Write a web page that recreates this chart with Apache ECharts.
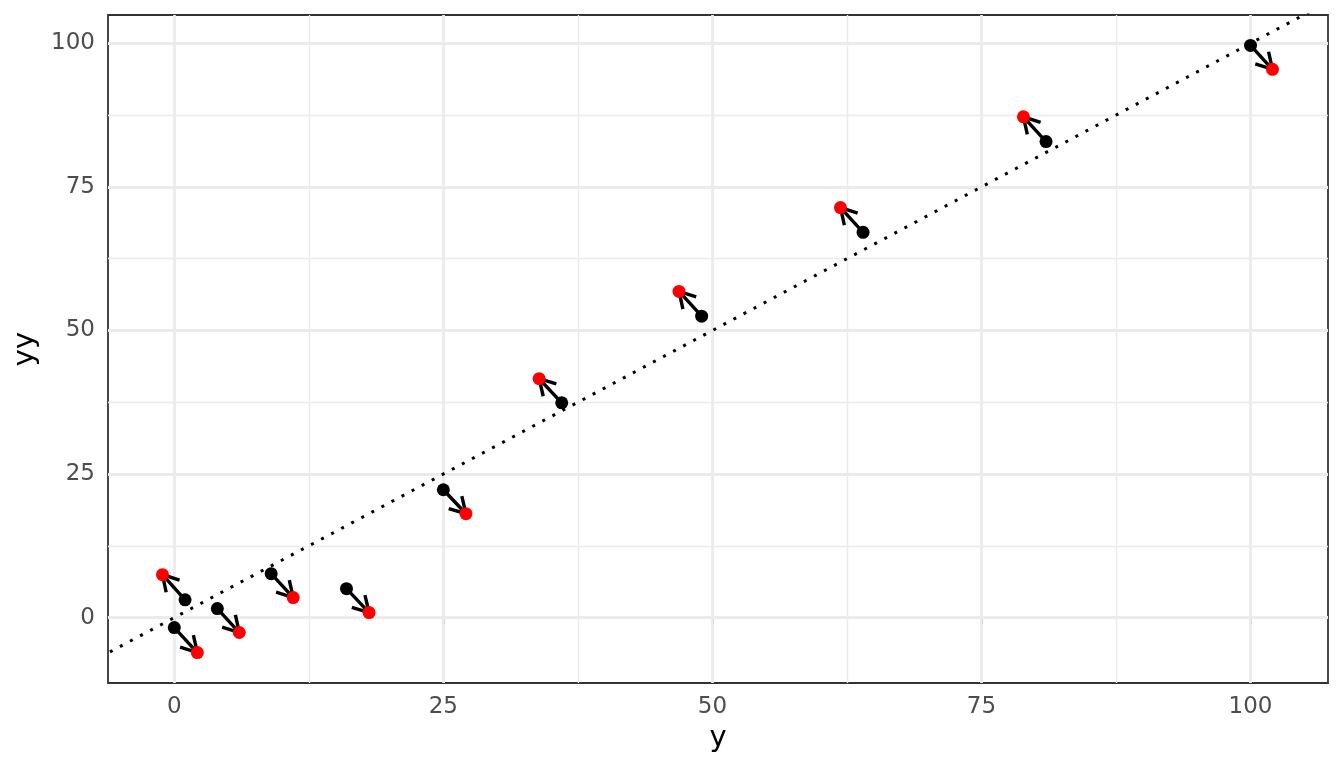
<!DOCTYPE html>
<html><head><meta charset="utf-8">
<script src="https://cdn.jsdelivr.net/npm/echarts@6/dist/echarts.min.js"></script>
<style>html,body{margin:0;padding:0;background:#fff}#c{width:1344px;height:768px}</style>
</head><body><div id="c"></div>
<script>
// data
const blackX = [0, 1, 4, 9, 16, 25, 36, 49, 64, 81, 100];
const blackY = [-1.74, 3.1, 1.57, 7.65, 5.04, 22.26, 37.4, 52.5, 67.1, 82.9, 99.65];
const redX = [2.14, -1.1, 6.04, 11.05, 18.1, 27.1, 33.9, 46.9, 61.9, 78.9, 102.04];
const redY = [-6.09, 7.48, -2.6, 3.48, 0.87, 18.09, 41.6, 56.8, 71.4, 87.2, 95.48];
const tickValues = [0, 25, 50, 75, 100];
const minorValues = [12.5, 37.5, 62.5, 87.5];
const xRange = [-6.16, 107.2];
const yRange = [-11.39, 104.94];
const refLine = [[-20, -20], [130, 130]];

const font = 'DejaVu Sans';
const gridLines = [];
tickValues.forEach(v => { gridLines.push({xAxis: v, lineStyle: {width: 2.8}}); gridLines.push({yAxis: v, lineStyle: {width: 2.8}}); });
minorValues.forEach(v => { gridLines.push({xAxis: v, lineStyle: {width: 1.4}}); gridLines.push({yAxis: v, lineStyle: {width: 1.4}}); });

const chart = echarts.init(document.getElementById('c'));
const axisCommon = {
  type: 'value',
  axisLine: {show: false},
  splitLine: {show: false},
  axisTick: {show: true, length: 7, customValues: tickValues, lineStyle: {color: '#333333', width: 2}},
  axisLabel: {customValues: tickValues, color: '#4D4D4D', fontFamily: font, fontSize: 23, margin: 13},
  nameLocation: 'middle',
  nameTextStyle: {color: '#000', fontFamily: font, fontSize: 29}
};
chart.setOption({
  animation: false,
  backgroundColor: '#fff',
  grid: {left: 108, right: 16, top: 15, bottom: 85, show: true, borderColor: '#333333', borderWidth: 1.8, backgroundColor: '#fff'},
  xAxis: Object.assign({}, axisCommon, {min: xRange[0], max: xRange[1], name: 'y', nameGap: 37}),
  yAxis: Object.assign({}, axisCommon, {min: yRange[0], max: yRange[1], name: 'yy', nameGap: 60, nameRotate: 90}),
  series: [
    {type: 'line', data: [], z: 1, silent: true,
     markLine: {z: 1, silent: true, symbol: ['none', 'none'], label: {show: false},
       lineStyle: {color: '#EBEBEB', type: 'solid'}, emphasis: {disabled: true}, data: gridLines}},
    {type: 'line', data: refLine, z: 6, clip: true, showSymbol: false, silent: true,
     lineStyle: {color: '#000', width: 3, type: [3, 8.4], cap: 'butt'}},
    {type: 'custom', z: 7, silent: true,
     data: blackX.map((x, i) => [x, blackY[i], redX[i], redY[i]]),
     encode: {x: [0, 2], y: [1, 3]},
     renderItem: function (params, api) {
       const p0 = api.coord([api.value(0), api.value(1)]);
       const p1 = api.coord([api.value(2), api.value(3)]);
       const a = Math.atan2(p1[1] - p0[1], p1[0] - p0[0]);
       const L = 18, ang = Math.PI / 6;
       const h1 = [p1[0] - L * Math.cos(a - ang), p1[1] - L * Math.sin(a - ang)];
       const h2 = [p1[0] - L * Math.cos(a + ang), p1[1] - L * Math.sin(a + ang)];
       return {type: 'group', children: [
         {type: 'line', shape: {x1: p0[0], y1: p0[1], x2: p1[0], y2: p1[1]}, style: {stroke: '#000', lineWidth: 3.4}},
         {type: 'polyline', shape: {points: [h1, p1, h2]}, style: {stroke: '#000', fill: null, lineWidth: 3.4, lineJoin: 'miter'}}
       ]};
     }},
    {type: 'scatter', z: 8, silent: true, symbolSize: 13, itemStyle: {color: '#000', opacity: 1},
     data: blackX.map((x, i) => [x, blackY[i]])},
    {type: 'scatter', z: 9, silent: true, symbolSize: 13, itemStyle: {color: '#FF0000', opacity: 1},
     data: redX.map((x, i) => [x, redY[i]])}
  ]
});
</script></body></html>
